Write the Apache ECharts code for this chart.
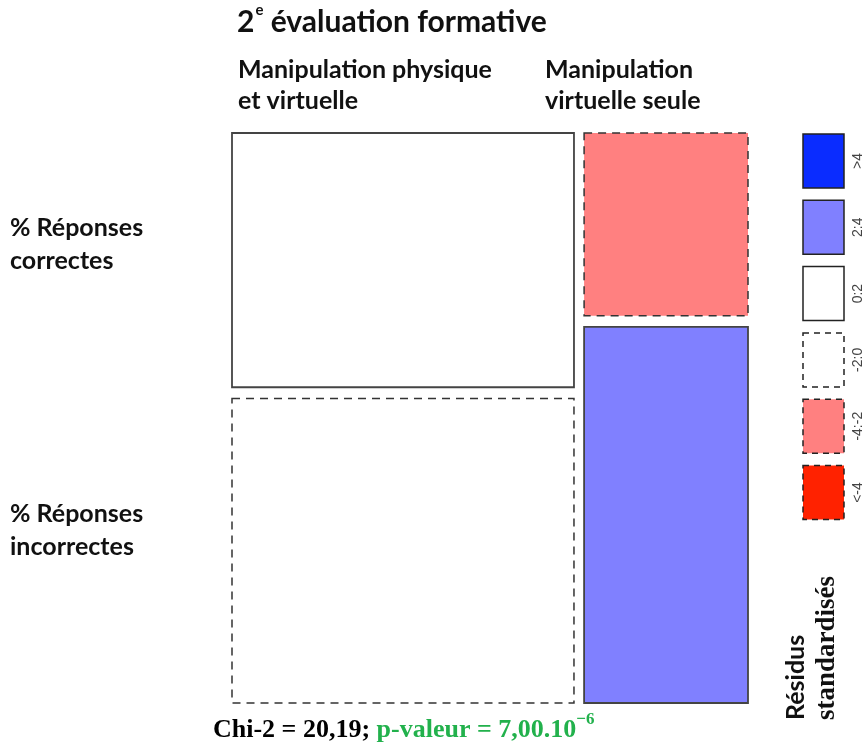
<!DOCTYPE html>
<html>
<head>
<meta charset="utf-8">
<script src="https://cdn.jsdelivr.net/npm/echarts@6/dist/echarts.min.js"></script>
<style>html,body{margin:0;padding:0;background:#fff}#c{width:867px;height:747px}</style>
</head>
<body>
<div id="c"></div>
<script>
// ---- data ----
const columns = ['Manipulation physique\net virtuelle', 'Manipulation\nvirtuelle seule'];
const rows = ['% Réponses\ncorrectes', '% Réponses\nincorrectes'];
const columnShare = [67.6, 32.4];          // width share of each column (%)
const correctShare = [45.5, 32.7];         // % correct answers within each column
const residualClass = [['0:2', '-2:0'], ['-4:-2', '2:4']]; // [column][row]
const legendLabels = ['>4', '2:4', '0:2', '-2:0', '-4:-2', '<-4'];
const legendFill = ['#0a2cff', '#8080ff', '#ffffff', '#ffffff', '#ff8080', '#ff2200'];
const chiText = 'Chi-2 = 20,19; ';
const pText = 'p-valeur = 7,00.10';
const pExp = '−6';

const GAP = 0.02;
const fillOf = c => legendFill[legendLabels.indexOf(c)];
const dashedOf = c => c.startsWith('-') || c.startsWith('<');

// build tiles (in axis units)
const tiles = [];
let xs = 0;
for (let i = 0; i < columns.length; i++) {
  const w = columnShare[i] / 100;
  const hc = correctShare[i] / 100;
  const parts = [hc, 1 - hc];
  let ys = 0;
  for (let j = 0; j < rows.length; j++) {
    tiles.push([xs, xs + w, ys, ys + parts[j], i, j]);
    ys += parts[j] + GAP;
  }
  xs += w + GAP;
}

const chart = echarts.init(document.getElementById('c'));
const SANS = 'Lato, "Open Sans", sans-serif';
const SERIF = '"Liberation Serif", "DejaVu Serif", serif';

const graphics = [];
// column labels
const colLabelX = [238, 545];
columns.forEach((c, i) => graphics.push({
  type: 'text', left: colLabelX[i], top: 54,
  style: { text: c, font: 'bold 25px ' + SANS, lineHeight: 31, fill: '#111' }
}));
// row labels
const rowLabelY = [211, 497];
rows.forEach((r, j) => graphics.push({
  type: 'text', left: 10, top: rowLabelY[j],
  style: { text: r, font: 'bold 25px ' + SANS, lineHeight: 33, fill: '#111' }
}));
// legend keys
legendLabels.forEach((l, k) => {
  const y = 134 + k * 66.3;
  graphics.push({
    type: 'rect', shape: { x: 803, y: y, width: 41, height: 54 },
    style: { fill: legendFill[k], stroke: '#222', lineWidth: 1.5, lineDash: dashedOf(l) ? [6, 5] : null }
  });
  graphics.push({
    type: 'text', x: 858, y: y + 27, rotation: Math.PI / 2,
    style: { text: l, font: '14px "Liberation Sans", Arial, sans-serif', fill: '#444', align: 'center', verticalAlign: 'middle' }
  });
});
// legend title
graphics.push({
  type: 'text', x: 796, y: 720, rotation: Math.PI / 2,
  style: { text: 'Résidus', font: 'bold 25px ' + SANS, fill: '#111', align: 'left', verticalAlign: 'middle' }
});
graphics.push({
  type: 'text', x: 827, y: 720, rotation: Math.PI / 2,
  style: { text: 'standardisés', font: 'bold 27px ' + SERIF, fill: '#111', align: 'left', verticalAlign: 'middle' }
});

const option = {
  animation: false,
  backgroundColor: '#fff',
  title: [
    {
      left: 237, top: 3, padding: 0,
      text: '{a|2}{s|e}{a| évaluation formative}',
      textStyle: {
        rich: {
          a: { fontSize: 30, fontWeight: 'bold', fontFamily: SANS, color: '#111', lineHeight: 38 },
          s: { fontSize: 15, fontFamily: SANS, color: '#111', verticalAlign: 'top', lineHeight: 38, padding: [0, 0, 16, 1] }
        }
      }
    },
    {
      left: 213, top: 712, padding: 0,
      text: '{b|' + chiText + '}{g|' + pText + '}{e|' + pExp + '}',
      textStyle: {
        rich: {
          b: { fontSize: 26, fontWeight: 'bold', fontFamily: SERIF, color: '#000', lineHeight: 36 },
          g: { fontSize: 26, fontWeight: 'bold', fontFamily: SERIF, color: '#22b14c', lineHeight: 36 },
          e: { fontSize: 17, fontWeight: 'bold', fontFamily: SERIF, color: '#22b14c', lineHeight: 36, padding: [0, 0, 20, 0] }
        }
      }
    }
  ],
  grid: { left: 232, top: 133, width: 516, height: 570 },
  xAxis: { type: 'value', min: 0, max: 1 + GAP, show: false },
  yAxis: { type: 'value', min: 0, max: 1 + GAP, inverse: true, show: false },
  series: [{
    type: 'custom',
    data: tiles,
    renderItem: function (params, api) {
      const p0 = api.coord([api.value(0), api.value(2)]);
      const p1 = api.coord([api.value(1), api.value(3)]);
      const cls = residualClass[api.value(4)][api.value(5)];
      const dashed = dashedOf(cls);
      return {
        type: 'rect',
        shape: {
          x: Math.min(p0[0], p1[0]), y: Math.min(p0[1], p1[1]),
          width: Math.abs(p1[0] - p0[0]), height: Math.abs(p1[1] - p0[1])
        },
        style: {
          fill: fillOf(cls), stroke: dashed ? '#333' : '#444',
          lineWidth: dashed ? 1.5 : 1.8, lineDash: dashed ? [8, 6] : null
        }
      };
    }
  }],
  graphic: graphics
};
chart.setOption(option);
</script>
</body>
</html>
